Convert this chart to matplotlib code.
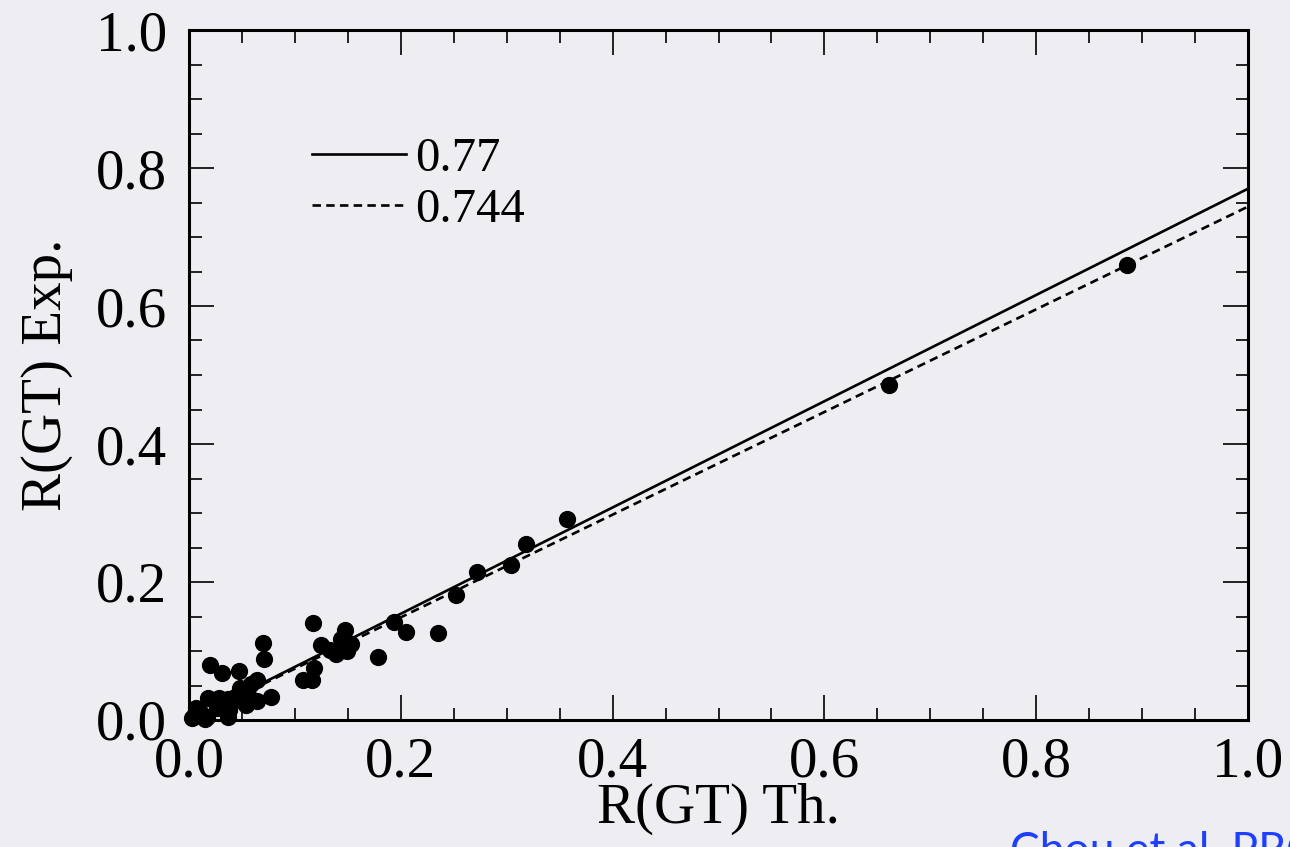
import numpy as np
import matplotlib
matplotlib.use("Agg")
import matplotlib.pyplot as plt
from matplotlib.ticker import MultipleLocator

x_th = [0.886, 0.661, 0.357, 0.318, 0.304, 0.272, 0.252, 0.235, 0.205, 0.194,
        0.178, 0.117, 0.147, 0.144, 0.125, 0.133, 0.139, 0.149, 0.153, 0.118,
        0.108, 0.116, 0.070, 0.071, 0.020, 0.031, 0.047, 0.064, 0.059, 0.048,
        0.056, 0.064, 0.077, 0.018, 0.028, 0.037, 0.043, 0.050, 0.007, 0.017,
        0.026, 0.038, 0.054, 0.006, 0.015, 0.037, 0.003, 0.010]
y_exp = [0.659, 0.486, 0.291, 0.255, 0.225, 0.214, 0.181, 0.126, 0.128, 0.142,
         0.091, 0.141, 0.130, 0.117, 0.109, 0.101, 0.096, 0.100, 0.110, 0.075,
         0.058, 0.058, 0.112, 0.088, 0.079, 0.068, 0.071, 0.058, 0.052, 0.046,
         0.036, 0.027, 0.034, 0.032, 0.032, 0.031, 0.033, 0.027, 0.017, 0.005,
         0.017, 0.014, 0.022, 0.008, 0.002, 0.005, 0.003, 0.012]

slopes = [0.77, 0.744]
slope_labels = ["0.77", "0.744"]
ticks = [0.0, 0.2, 0.4, 0.6, 0.8, 1.0]
tick_labels = ["0.0", "0.2", "0.4", "0.6", "0.8", "1.0"]

bg = "#eeeef2"
serif = ["Liberation Serif", "DejaVu Serif"]

fig = plt.figure(figsize=(12.9, 8.47), dpi=100, facecolor=bg)
ax = fig.add_axes([189/1290, 1 - 720/847, (1248 - 189)/1290, (720 - 30)/847])
ax.set_facecolor(bg)

xx = np.array([0.0, 1.0])
ax.plot(xx, slopes[0]*xx, color="black", lw=1.9, label=slope_labels[0])
ax.plot(xx, slopes[1]*xx, color="black", lw=1.9, linestyle=(0, (3.2, 2.0)),
        label=slope_labels[1])
ax.scatter(x_th, y_exp, s=130, color="black", zorder=3, clip_on=False)

ax.set_xlim(0, 1)
ax.set_ylim(0, 1)
ax.set_xticks(ticks)
ax.set_yticks(ticks)
ax.xaxis.set_minor_locator(MultipleLocator(0.05))
ax.yaxis.set_minor_locator(MultipleLocator(0.05))
ax.tick_params(which="both", direction="in", top=True, right=True, width=1.2)
ax.tick_params(which="major", length=18)
ax.tick_params(which="minor", length=9)
ax.tick_params(axis="x", which="major", pad=12)
ax.tick_params(axis="y", which="major", pad=16)
for sp in ax.spines.values():
    sp.set_linewidth(2.2)

ax.set_xticklabels(tick_labels, fontsize=41, family=serif)
ax.set_yticklabels(tick_labels, fontsize=41, family=serif)
ax.set_xlabel("R(GT) Th.", fontsize=41, family=serif, labelpad=-4)
ax.set_ylabel("R(GT) Exp.", fontsize=41, family=serif, labelpad=16)

leg = ax.legend(loc="upper left", bbox_to_anchor=(0.0975, 0.873), frameon=False,
                prop={"family": serif, "size": 35}, handlelength=1.95,
                handletextpad=0.17, labelspacing=0.14, borderaxespad=0)

fig.text(1010/1290, 1 - 831/847, "Chou et al. PRC", color="#1f3fff",
         fontsize=32, family=["Lato", "DejaVu Sans"], va="top")

fig.savefig("out.png", dpi=100, facecolor=bg)
